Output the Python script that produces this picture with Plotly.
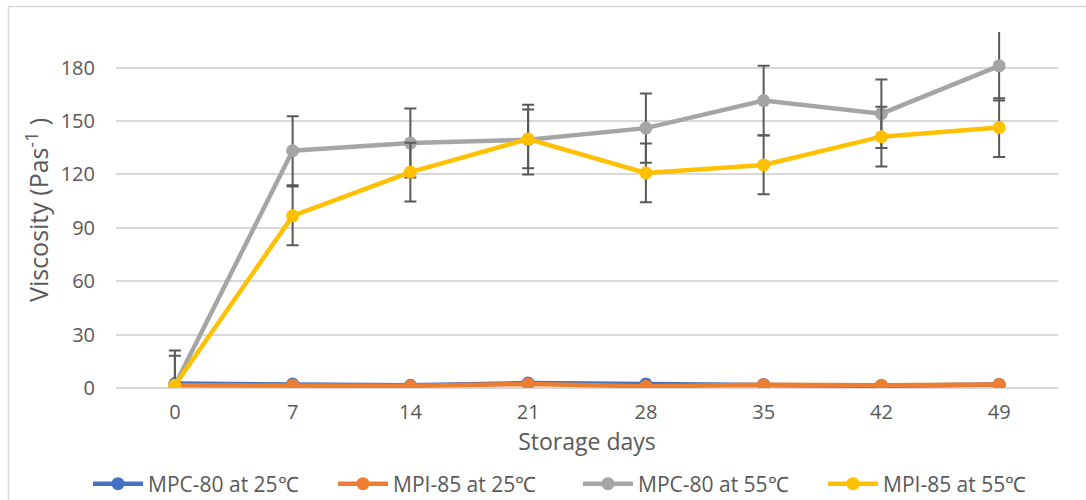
import plotly.graph_objects as go

days = ["0", "7", "14", "21", "28", "35", "42", "49"]

series_names = ["MPC-80 at 25℃", "MPI-85 at 25℃", "MPC-80 at 55℃", "MPI-85 at 55℃"]

mpc80_25 = [2.5, 2.2, 1.5, 2.8, 2.3, 2.0, 1.2, 2.0]
mpi85_25 = [1.5, 1.5, 1.2, 2.2, 1.0, 1.8, 1.5, 2.0]
mpc80_55 = [1.5, 133.3, 137.6, 139.5, 146.0, 161.5, 154.1, 181.0]
mpi85_55 = [1.5, 96.7, 121.3, 139.9, 120.8, 125.3, 141.2, 146.3]

err_mpc80_25 = [0.3, 0.3, 0.3, 0.3, 0.3, 0.3, 0.3, 0.3]
err_mpi85_25 = [0.3, 0.3, 0.3, 0.3, 0.3, 0.3, 0.3, 0.3]
err_mpc80_55 = [19.5, 19.4, 19.4, 19.6, 19.4, 19.5, 19.2, 19.5]
err_mpi85_55 = [16.6, 16.5, 16.5, 16.5, 16.5, 16.5, 16.8, 16.5]

y_ticks = [0, 30, 60, 90, 120, 150, 180]

colors = ["#4472C4", "#ED7D31", "#A5A5A5", "#FFC000"]
values = [mpc80_25, mpi85_25, mpc80_55, mpi85_55]
errors = [err_mpc80_25, err_mpi85_25, err_mpc80_55, err_mpi85_55]

FONT = "Open Sans"
TXT = "#595959"

fig = go.Figure()
for name, vals, errs, col in zip(series_names, values, errors, colors):
    fig.add_trace(go.Scatter(
        x=days, y=vals, name=name, mode="lines+markers",
        line=dict(color=col, width=4.5),
        marker=dict(color=col, size=13),
        error_y=dict(type="data", array=errs, visible=True,
                     color="#595959", thickness=2, width=6),
    ))

fig.update_layout(
    width=1086, height=500,
    margin=dict(l=116, r=28, t=32, b=112, autoexpand=False),
    paper_bgcolor="white", plot_bgcolor="white",
    font=dict(family=FONT, size=20, color=TXT),
    showlegend=True,
    legend=dict(orientation="h", x=(88 - 116) / 942, xanchor="left",
                y=(388 - 484) / 356, yanchor="middle",
                font=dict(family=FONT, size=21, color=TXT),
                entrywidth=180, entrywidthmode="pixels", itemwidth=50,
                tracegroupgap=0),
    xaxis=dict(type="category", range=[-0.5, 7.5], showgrid=False,
               showline=False, ticks="", ticklabelstandoff=10, automargin=False,
               tickfont=dict(size=20, color=TXT),
               title=dict(text="Storage days", font=dict(size=23, color=TXT), standoff=2)),
    yaxis=dict(range=[0, 200], tickvals=y_ticks, showgrid=True, gridcolor="#D9D9D9",
               gridwidth=1.5, zeroline=True, zerolinecolor="#D9D9D9", zerolinewidth=1.5,
               showline=False, ticks="", ticklabelstandoff=20, automargin=False,
               tickfont=dict(size=20, color=TXT),
               title=dict(text="Viscosity (Pas<sup>-1</sup> )", font=dict(size=25, color=TXT), standoff=4)),
)

# outer chart border (light gray), extending past the right and bottom of the view
fig.add_shape(type="rect", xref="paper", yref="paper",
              x0=(8.5 - 116) / 942, x1=(1095 - 116) / 942,
              y0=(388 - 510) / 356, y1=(388 - 6.5) / 356,
              line=dict(color="#D9D9D9", width=1.5), fillcolor="rgba(0,0,0,0)", layer="below")

fig.write_html("out.html")
